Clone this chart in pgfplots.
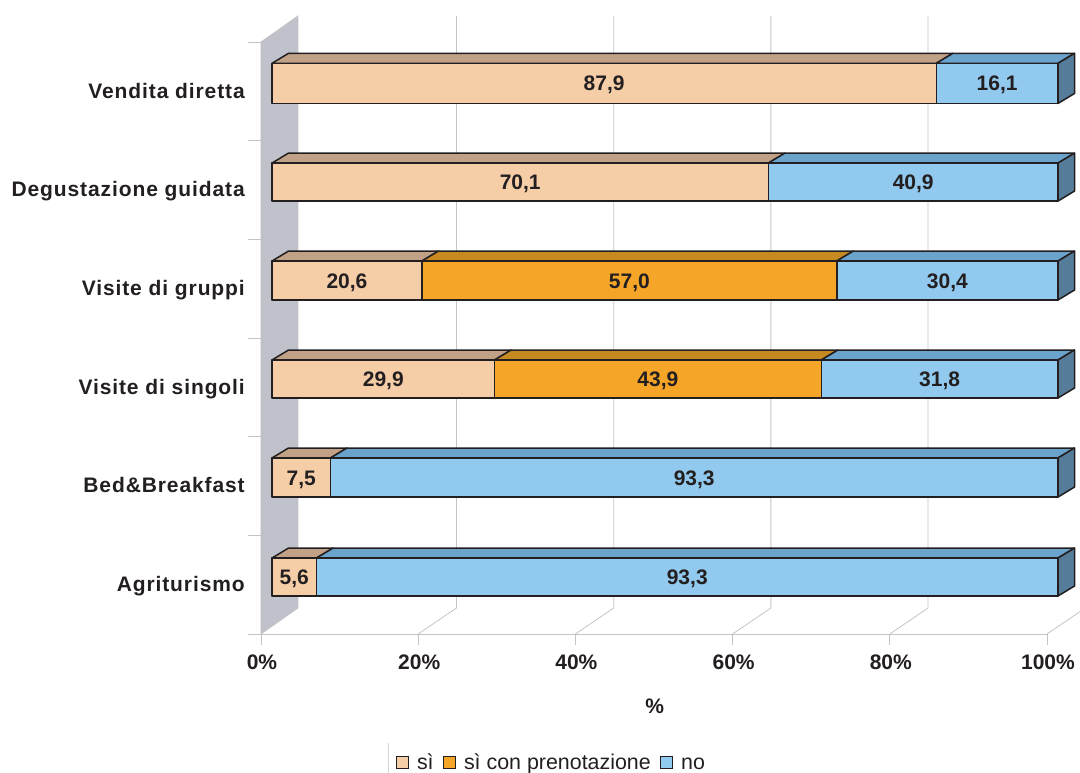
\documentclass[border=0pt]{standalone}
\usepackage{pgfplots}
\usepackage{pgfplotstable}
\usepackage{fontspec}
\pgfplotsset{compat=1.18}
\setmainfont{Liberation Sans}
\newfontfamily\spacedbold[LetterSpace=4.3,BoldFont=*]{Liberation Sans Bold}
\definecolor{edge}{HTML}{231F20}
\definecolor{rulegray}{HTML}{C4C4C4}
\definecolor{wall}{HTML}{BFC2CB}
\definecolor{siFront}{HTML}{F5CEA8}
\definecolor{siTop}{HTML}{C2A287}
\definecolor{prenFront}{HTML}{F5A528}
\definecolor{prenTop}{HTML}{C68A20}
\definecolor{noFront}{HTML}{92C9EE}
\definecolor{noTop}{HTML}{6AA3CC}
\definecolor{noSide}{HTML}{557C99}

% Values per service; each row is stacked to the full width. low/high give the front face.
\pgfplotstableread{
row si   pren no   low   high
0   5.6  0    93.3 0.385 0.770
1   7.5  0    93.3 1.388 1.784
2   29.9 43.9 31.8 2.392 2.777
3   20.6 57.0 30.4 3.385 3.780
4   70.1 0    40.9 4.388 4.773
5   87.9 0    16.1 5.377 5.784
}\datatable

% Bar offset from the front plane and bar depth, in axis units
\def\xo{1.4}
\def\dxb{2.1}
\def\dyb{0.101}
% Wall, gridline and floor depth, in axis units
\def\dxw{4.7}
\def\dxg{4.87}
\def\dyw{0.2635}

\tikzset{face/.style={draw=edge,line width=1.5pt,line join=round}}

\newcommand\segment[4]{%
  \pgfmathsetmacro\xl{#3+\dxb}%
  \pgfmathsetmacro\xr{#4+\dxb}%
  \addplot[face,fill=#2] coordinates {(#3,\yhi) (#4,\yhi) (\xr,\yback) (\xl,\yback)} -- cycle;
  \addplot[face,fill=#1] coordinates {(#3,\ylo) (#4,\ylo) (#4,\yhi) (#3,\yhi)} -- cycle;
}
\newcommand\seglabel[3]{%
  \pgfmathsetmacro\xm{(#1+#2)/2}%
  \edef\tmp{\noexpand\node[font=\noexpand\bfseries\noexpand\fontsize{21}{24}\noexpand\selectfont,text=edge,inner sep=0pt,anchor=base,yshift=-7.5pt] at (axis cs:\xm,\ym) {\noexpand\pgfmathprintnumber[fixed,fixed zerofill,precision=1,use comma,assume math mode=true]{#3}};}%
  \tmp
}
\newcommand\drawrow[1]{%
  \pgfplotstablegetelem{#1}{si}\of\datatable \let\A\pgfplotsretval
  \pgfplotstablegetelem{#1}{pren}\of\datatable \let\B\pgfplotsretval
  \pgfplotstablegetelem{#1}{no}\of\datatable \let\C\pgfplotsretval
  \pgfplotstablegetelem{#1}{low}\of\datatable \let\ylo\pgfplotsretval
  \pgfplotstablegetelem{#1}{high}\of\datatable \let\yhi\pgfplotsretval
  \pgfmathsetmacro\yback{\yhi+\dyb}%
  \pgfmathsetmacro\ym{(\ylo+\yhi)/2}%
  \pgfmathsetmacro\tot{\A+\B+\C}%
  \pgfmathsetmacro\xa{\xo+100*\A/\tot}%
  \pgfmathsetmacro\xbb{\xa+100*\B/\tot}%
  \pgfmathsetmacro\xcc{\xo+100}%
  \segment{siFront}{siTop}{\xo}{\xa}
  \seglabel{\xo}{\xa}{\A}
  \ifdim\B pt>0pt
    \segment{prenFront}{prenTop}{\xa}{\xbb}
    \seglabel{\xa}{\xbb}{\B}
  \fi
  \segment{noFront}{noTop}{\xbb}{\xcc}
  \seglabel{\xbb}{\xcc}{\C}
  \pgfmathsetmacro\xsd{\xcc+\dxb}%
  \pgfmathsetmacro\ylb{\ylo+\dyb}%
  \addplot[face,fill=noSide] coordinates {(\xcc,\ylo) (\xsd,\ylb) (\xsd,\yback) (\xcc,\yhi)} -- cycle;
}

\begin{document}
\begin{tikzpicture}
\path[use as bounding box] (-261pt,-139pt) rectangle (819pt,634pt);
\begin{axis}[
  scale only axis, width=786pt, height=592pt,
  xmin=0, xmax=100, ymin=0, ymax=6,
  clip=false,
  axis x line=bottom, axis y line=left,
  axis line style={-,draw=rulegray,line width=0.8pt},
  tick align=outside,
  xtick={0,20,40,60,80,100},
  xticklabels={0\%,20\%,40\%,60\%,80\%,100\%},
  ytick={0.5,1.5,2.5,3.5,4.5,5.5},
  yticklabels={Agriturismo,Bed\&Breakfast,Visite di singoli,Visite di gruppi,Degustazione guidata,Vendita diretta},
  minor ytick={0,1,2,3,4,5,6},
  major tick length=11pt,
  minor tick length=13pt,
  tick style={draw=rulegray,line width=0.8pt},
  every major y tick/.append style={draw=none},
  x tick label style={font=\bfseries\fontsize{21}{24}\selectfont,text=edge,inner sep=0pt,yshift=-10pt,xshift=1pt},
  y tick label style={font=\spacedbold\bfseries\fontsize{21}{24}\selectfont,text=edge,inner sep=0pt,anchor=base east,xshift=-5pt,yshift=-7pt},
  xlabel={\%},
  xlabel style={at={(axis cs:50.1,-0.73)},anchor=center,font=\bfseries\fontsize{21}{24}\selectfont,text=edge,inner sep=0pt},
  legend style={at={(axis cs:17.1,-1.325)},anchor=west,draw=none,fill=none,legend columns=3,
    font=\fontsize{21.4}{24}\selectfont,text=edge,inner sep=0pt,
    nodes={text height=15pt,text depth=5pt},
    /tikz/every odd column/.append style={column sep=6pt},
    /tikz/every even column/.append style={column sep=7pt}},
  legend cell align=left,
  legend image code/.code={\draw[#1,draw=edge,line width=1.4pt] (0pt,-3.5pt) rectangle (12pt,8.5pt);},
  legend entries={s\`i,s\`i con prenotazione,no},
]
\addlegendimage{fill=siFront}
\addlegendimage{fill=prenFront}
\addlegendimage{fill=noFront}

% Side wall
\addplot[draw=rulegray,fill=wall,line width=0.8pt] coordinates {(0,0) (\dxw,\dyw) (\dxw,6.2635) (0,6)} -- cycle;

% Floor and back gridlines
\pgfplotsinvokeforeach{20,40,60,80,100}{
  \pgfmathsetmacro\gx{#1+\dxg}
  \addplot[draw=rulegray,line width=0.8pt] coordinates {(#1,0) (\gx,\dyw) (\gx,6.2635)};
}

% Separator beside the legend
\addplot[draw=rulegray!70,line width=0.8pt] coordinates {(16.2,-1.105) (16.2,-1.41)};

% Stacked bars, bottom to top
\pgfplotsinvokeforeach{0,...,5}{\drawrow{#1}}
\end{axis}
\end{tikzpicture}
\end{document}
